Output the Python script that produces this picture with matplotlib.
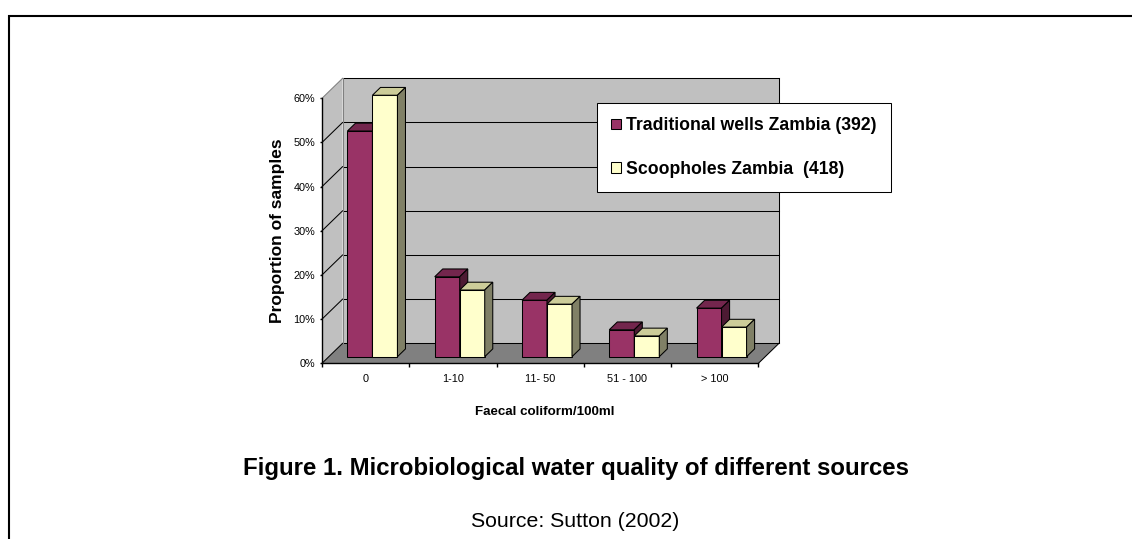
import matplotlib
matplotlib.use("Agg")
import matplotlib.pyplot as plt
from matplotlib.patches import Polygon, Rectangle
from matplotlib.lines import Line2D
from matplotlib import font_manager as fm

# ---------------- data ----------------
categories = ["0", "1-10", "11- 50", "51 - 100", "> 100"]
wells_zambia = [51.1, 18.1, 12.8, 6.1, 11.0]
scoopholes_zambia = [59.2, 15.1, 11.9, 4.7, 6.7]
series_labels = ["Traditional wells Zambia (392)", "Scoopholes Zambia  (418)"]
y_ticks = [0, 10, 20, 30, 40, 50, 60]
y_tick_labels = ["0%", "10%", "20%", "30%", "40%", "50%", "60%"]
x_title = "Faecal coliform/100ml"
y_title = "Proportion of samples"
fig_title = "Figure 1. Microbiological water quality of different sources"
source_text = "Source: Sutton (2002)"

# ---------------- fonts ----------------
available = {f.name for f in fm.fontManager.ttflist}
REG = "Liberation Sans" if "Liberation Sans" in available else "DejaVu Sans"
NARROW = "Liberation Sans Narrow" in available
NAR = "Liberation Sans Narrow" if NARROW else REG
nscale = 1.0 if NARROW else 0.84
tscale = 1.0 if NARROW else 0.9
plt.rcParams["font.family"] = [NAR, "DejaVu Sans"]

# ---------------- layout (pixels) ----------------
W, H, DPI = 1132, 539, 100
AX_X0, AX_X1 = 322.0, 758.4
AX_Y0, AX_Y60 = 363.3, 98.3
n = len(categories)
top = y_ticks[-1]
px_cat = (AX_X1 - AX_X0) / n
px_pct = (AX_Y0 - AX_Y60) / top
XMAX, YMAX = n + 0.5, top + 6
axw_px, axh_px = XMAX * px_cat, YMAX * px_pct

fig = plt.figure(figsize=(W / DPI, H / DPI), dpi=DPI)
ax = fig.add_axes([AX_X0 / W, (H - AX_Y0) / H, axw_px / W, axh_px / H])
ax.set_xlim(0, XMAX)
ax.set_ylim(0, YMAX)
ax.patch.set_visible(False)

# 3-D depth offsets (data units)
DX = 20.6 / px_cat
DY = 20.0 / px_pct

WALL = "#c0c0c0"
FLOOR = "#808080"
EDGE_GRAY = "#808080"
LW = 0.75

# walls and floor
ax.add_patch(Polygon([(0, 0), (DX, DY), (DX, top + DY), (0, top)],
                     fc=WALL, ec="none", zorder=1, clip_on=False))
ax.add_patch(Polygon([(DX, DY), (n + DX, DY), (n + DX, top + DY), (DX, top + DY)],
                     fc=WALL, ec="none", zorder=1, clip_on=False))
ax.add_patch(Polygon([(0, 0), (n, 0), (n + DX, DY), (DX, DY)],
                     fc=FLOOR, ec="none", zorder=1, clip_on=False))

# gridlines on back wall and side wall
for v in y_ticks:
    col = "black" if v < top else EDGE_GRAY
    ax.plot([0, DX], [v, v + DY], color=col, lw=LW, zorder=2, clip_on=False)
    ax.plot([DX, n + DX], [v + DY, v + DY], color="black", lw=LW, zorder=2, clip_on=False)
ax.plot([DX, DX], [DY, top + DY], color=EDGE_GRAY, lw=LW, zorder=2, clip_on=False)
ax.plot([n + DX, n + DX], [DY, top + DY], color="black", lw=LW, zorder=2, clip_on=False)
ax.plot([n, n + DX], [0, DY], color="black", lw=LW, zorder=2, clip_on=False)

# bars
F0, FD = 0.33, 0.39
BW = 0.2865
ox, oy = F0 * DX, F0 * DY
ddx, ddy = FD * DX, FD * DY
series = [
    (wells_zambia, "#993366", "#73264d", "#4d1a33"),
    (scoopholes_zambia, "#ffffcc", "#cccc99", "#808066"),
]
for i in range(n):
    for k, (vals, fc, tc, sc) in enumerate(series):
        xl = i + 0.5 - BW + k * BW + ox
        v = vals[i]
        z = 3 + 0.01 * (2 * i + k)
        ax.bar([xl], [v], width=BW, bottom=oy, align="edge", color=fc,
               edgecolor="black", linewidth=LW, zorder=z)
        ax.add_patch(Polygon([(xl, oy + v), (xl + BW, oy + v),
                              (xl + BW + ddx, oy + v + ddy), (xl + ddx, oy + v + ddy)],
                             fc=tc, ec="black", lw=LW, zorder=z))
        ax.add_patch(Polygon([(xl + BW, oy), (xl + BW + ddx, oy + ddy),
                              (xl + BW + ddx, oy + v + ddy), (xl + BW, oy + v)],
                             fc=sc, ec="black", lw=LW, zorder=z))

# axes / ticks
for s in ["top", "right"]:
    ax.spines[s].set_visible(False)
ax.spines["left"].set_bounds(0, top)
ax.spines["bottom"].set_bounds(0, n)
for s in ["left", "bottom"]:
    ax.spines[s].set_linewidth(1.0)
    ax.spines[s].set_color("black")

ax.set_yticks(y_ticks)
ax.set_yticklabels(y_tick_labels)
ax.set_xticks(range(n + 1))
ax.set_xticklabels([""] * (n + 1))
ax.set_xticks([i + 0.5 for i in range(n)], minor=True)
ax.set_xticklabels(categories, minor=True)
ax.tick_params(axis="x", which="major", direction="out", length=3, width=1.0)
ax.tick_params(axis="x", which="minor", length=0, pad=8.0, labelsize=8.7 * tscale)
ax.tick_params(axis="y", which="major", direction="out", length=1.5, width=1.0,
               pad=3.5, labelsize=8.7 * tscale)

ax.set_ylabel(y_title, family=REG, weight="bold", size=12.5, va="center", ha="center")
ax.yaxis.set_label_coords((277.6 - AX_X0) / axw_px, (AX_Y0 - 230.5) / axh_px)
ax.set_xlabel(x_title, weight="bold", size=11.5 * nscale, va="baseline", ha="center")
ax.xaxis.set_label_coords((545 - AX_X0) / axw_px, (AX_Y0 - 415) / axh_px)

# legend
handles = [Rectangle((0, 0), 1, 1, fc=s[1], ec="black", lw=LW) for s in series]
leg = ax.legend(handles, series_labels, loc="upper left",
                bbox_to_anchor=(597.3 / W, 1 - 103.3 / H), bbox_transform=fig.transFigure,
                borderaxespad=0, frameon=True, fancybox=False, edgecolor="black",
                facecolor="white", framealpha=1,
                prop={"family": NAR, "weight": "bold", "size": 15.1 * nscale},
                handlelength=0.55, handleheight=0.55, handletextpad=0.3,
                borderpad=0.8, labelspacing=1.5)
leg.get_frame().set_linewidth(LW)
leg.set_zorder(10)

# figure texts
fig.text(576 / W, 1 - 475 / H, fig_title, ha="center", va="baseline",
         family=REG, weight="bold", size=17.3)
fig.text(575.5 / W, 1 - 527.3 / H, source_text, ha="center", va="baseline",
         family=REG, size=15.3)

# page frame lines
fig.add_artist(Line2D([8 / W, 1], [1 - 15.8 / H, 1 - 15.8 / H],
                      transform=fig.transFigure, color="black", lw=1.5,
                      solid_capstyle="butt"))
fig.add_artist(Line2D([9 / W, 9 / W], [1 - 15.3 / H, 0],
                      transform=fig.transFigure, color="black", lw=1.5,
                      solid_capstyle="butt"))

fig.savefig("out.png", dpi=DPI)
